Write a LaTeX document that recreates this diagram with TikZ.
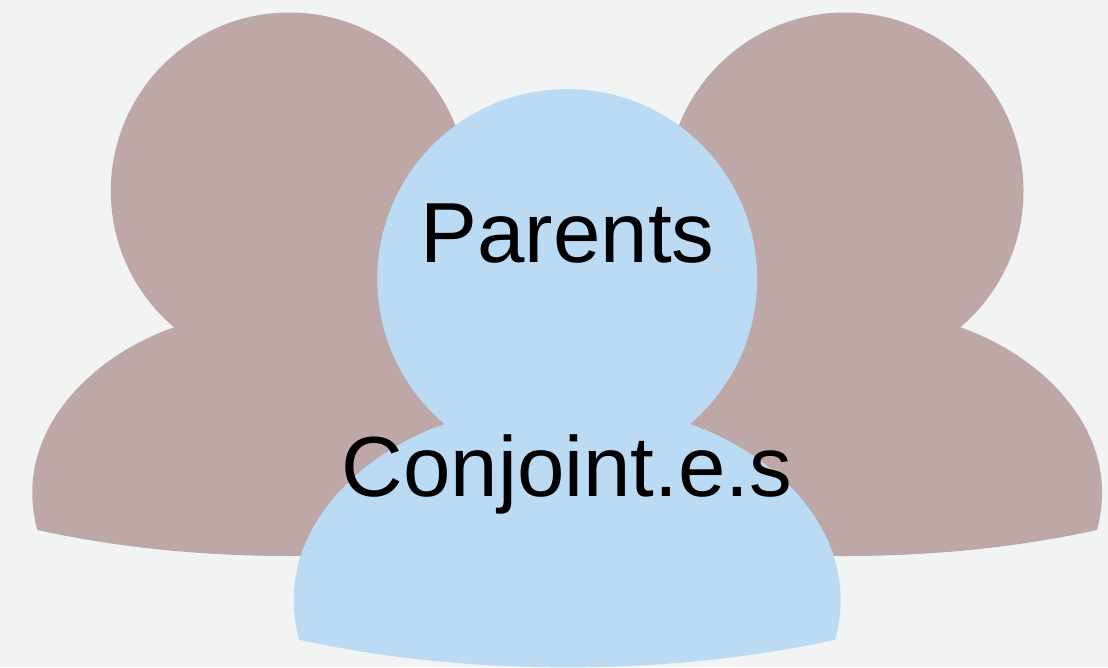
\documentclass[tikz,border=0pt]{standalone}
\usepackage{fontspec}
\setmainfont{Liberation Sans}
\definecolor{bgc}{HTML}{F2F4F4}
\definecolor{brownp}{HTML}{BDA7A7}
\definecolor{bluep}{HTML}{BBDAF4}
\tikzset{px/.style={x=1pt,y=-1pt},
 caption text/.style={font=\fontsize{85.3}{90}\selectfont,text=black,inner sep=0pt,anchor=base}}
% person silhouette: head centre at the origin, brown size
\newcommand{\personshape}[1]{%
 \fill[#1] (0,0) circle[radius=178.5];
 \fill[#1] (-114.5,136) .. controls (-190,162) and (-257,225) .. (-257,301)
  .. controls (-257,315) and (-255,328) .. (-252,339)
  .. controls (-170,357) and (-85,365) .. (0,365)
  .. controls (85,365) and (170,357) .. (252,339)
  .. controls (255,328) and (257,315) .. (257,301)
  .. controls (257,225) and (190,162) .. (114.5,136) -- cycle;}
\begin{document}
\begin{tikzpicture}[px]
\useasboundingbox (0,0) rectangle (1108,667);
\fill[bgc] (0,0) rectangle (1108,667);
\begin{scope}[shift={(289.3,191)}]\personshape{brownp}\end{scope}
\begin{scope}[shift={(845,191)}]\personshape{brownp}\end{scope}
\begin{scope}[shift={(567.2,279)},scale=1.064]\personshape{bluep}\end{scope}
\node[caption text] (parents) at (567.4,262) {Parents};
\node[caption text] (conjoint) at (567,496) {Conjoint.e.s};
\end{tikzpicture}
\end{document}
